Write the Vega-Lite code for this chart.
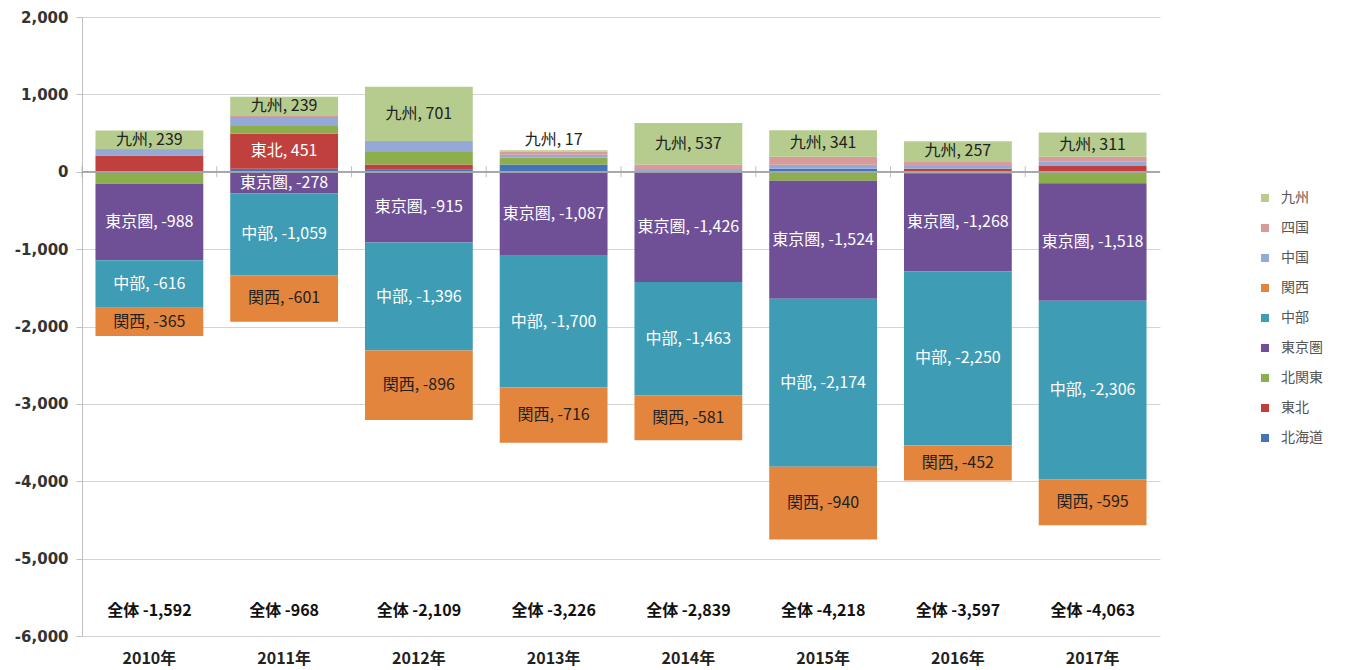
{
  "$schema": "https://vega.github.io/schema/vega-lite/v6.json",
  "width": 1078,
  "height": 619,
  "autosize": {"type": "none"},
  "padding": {"left": 82, "top": 17, "right": 186, "bottom": 34},
  "config": {
    "view": {"stroke": null},
    "font": "Noto Sans CJK JP",
    "axisY": {
      "labelFont": "DejaVu Sans",
      "labelFontWeight": "bold",
      "labelFontSize": 15,
      "labelColor": "#333333",
      "domainColor": "#bfbfbf",
      "tickColor": "#bfbfbf",
      "tickSize": 6,
      "labelPadding": 8,
      "gridColor": "#d4d4d4",
      "grid": true
    },
    "axisX": {
      "labelFont": "Noto Sans CJK JP",
      "labelFontWeight": "bold",
      "labelFontSize": 16,
      "labelColor": "#222222",
      "ticks": false,
      "domain": false,
      "labelPadding": 14,
      "labelAngle": 0
    },
    "legend": {
      "orient": "none",
      "legendX": 1176,
      "legendY": 174,
      "symbolType": "square",
      "symbolSize": 64,
      "symbolStrokeWidth": 0,
      "labelFontSize": 14,
      "labelColor": "#555555",
      "labelFont": "Noto Sans CJK JP",
      "labelOffset": 9,
      "rowPadding": 16
    }
  },
  "datasets": {
    "regions": [
      {"year": "2010年", "region": "北海道", "value": -15},
      {"year": "2010年", "region": "東北", "value": 210},
      {"year": "2010年", "region": "北関東", "value": -140},
      {"year": "2010年", "region": "東京圏", "value": -988},
      {"year": "2010年", "region": "中部", "value": -616},
      {"year": "2010年", "region": "関西", "value": -365},
      {"year": "2010年", "region": "中国", "value": 70},
      {"year": "2010年", "region": "四国", "value": 13},
      {"year": "2010年", "region": "九州", "value": 239},
      {"year": "2011年", "region": "北海道", "value": 40},
      {"year": "2011年", "region": "東北", "value": 451},
      {"year": "2011年", "region": "北関東", "value": 100},
      {"year": "2011年", "region": "東京圏", "value": -278},
      {"year": "2011年", "region": "中部", "value": -1059},
      {"year": "2011年", "region": "関西", "value": -601},
      {"year": "2011年", "region": "中国", "value": 115},
      {"year": "2011年", "region": "四国", "value": 25},
      {"year": "2011年", "region": "九州", "value": 239},
      {"year": "2012年", "region": "北海道", "value": 25},
      {"year": "2012年", "region": "東北", "value": 70},
      {"year": "2012年", "region": "北関東", "value": 160},
      {"year": "2012年", "region": "東京圏", "value": -915},
      {"year": "2012年", "region": "中部", "value": -1396},
      {"year": "2012年", "region": "関西", "value": -896},
      {"year": "2012年", "region": "中国", "value": 130},
      {"year": "2012年", "region": "四国", "value": 12},
      {"year": "2012年", "region": "九州", "value": 701},
      {"year": "2013年", "region": "北海道", "value": 95},
      {"year": "2013年", "region": "北関東", "value": 85},
      {"year": "2013年", "region": "東京圏", "value": -1087},
      {"year": "2013年", "region": "中部", "value": -1700},
      {"year": "2013年", "region": "関西", "value": -716},
      {"year": "2013年", "region": "中国", "value": 40},
      {"year": "2013年", "region": "四国", "value": 40},
      {"year": "2013年", "region": "九州", "value": 17},
      {"year": "2014年", "region": "東京圏", "value": -1426},
      {"year": "2014年", "region": "中部", "value": -1463},
      {"year": "2014年", "region": "関西", "value": -581},
      {"year": "2014年", "region": "中国", "value": 34},
      {"year": "2014年", "region": "四国", "value": 60},
      {"year": "2014年", "region": "九州", "value": 537},
      {"year": "2015年", "region": "北海道", "value": 40},
      {"year": "2015年", "region": "北関東", "value": -116},
      {"year": "2015年", "region": "東京圏", "value": -1524},
      {"year": "2015年", "region": "中部", "value": -2174},
      {"year": "2015年", "region": "関西", "value": -940},
      {"year": "2015年", "region": "中国", "value": 50},
      {"year": "2015年", "region": "四国", "value": 105},
      {"year": "2015年", "region": "九州", "value": 341},
      {"year": "2016年", "region": "東北", "value": 40},
      {"year": "2016年", "region": "北関東", "value": -20},
      {"year": "2016年", "region": "東京圏", "value": -1268},
      {"year": "2016年", "region": "中部", "value": -2250},
      {"year": "2016年", "region": "関西", "value": -452},
      {"year": "2016年", "region": "中国", "value": 35},
      {"year": "2016年", "region": "四国", "value": 61},
      {"year": "2016年", "region": "九州", "value": 257},
      {"year": "2017年", "region": "北海道", "value": 5},
      {"year": "2017年", "region": "東北", "value": 70},
      {"year": "2017年", "region": "北関東", "value": -150},
      {"year": "2017年", "region": "東京圏", "value": -1518},
      {"year": "2017年", "region": "中部", "value": -2306},
      {"year": "2017年", "region": "関西", "value": -595},
      {"year": "2017年", "region": "中国", "value": 55},
      {"year": "2017年", "region": "四国", "value": 65},
      {"year": "2017年", "region": "九州", "value": 311}
    ],
    "totals": [
      {"year": "2010年", "total": -1592},
      {"year": "2011年", "total": -968},
      {"year": "2012年", "total": -2109},
      {"year": "2013年", "total": -3226},
      {"year": "2014年", "total": -2839},
      {"year": "2015年", "total": -4218},
      {"year": "2016年", "total": -3597},
      {"year": "2017年", "total": -4063}
    ]
  },
  "layer": [
    {
      "data": {"name": "regions"},
      "transform": [
        {"calculate": "indexof(['北海道','東北','北関東','東京圏','中部','関西','中国','四国','九州'], datum.region)", "as": "ord"},
        {"stack": "value", "groupby": ["year"], "sort": [{"field": "ord", "order": "ascending"}], "as": ["v0", "v1"]},
        {"calculate": "(datum.v0 + datum.v1) / 2", "as": "mid"},
        {"calculate": "datum.region + ', ' + replace(format(datum.value, ','), '\u2212', '-')", "as": "label"}
      ],
      "layer": [
        {
          "mark": {"type": "bar"},
          "encoding": {
            "x": {"field": "year", "type": "nominal", "title": null, "scale": {"paddingInner": 0.2, "paddingOuter": 0.1}},
            "y": {
              "field": "v0",
              "type": "quantitative",
              "title": null,
              "scale": {"domain": [-6000, 2000], "nice": false},
              "axis": {
                "values": [-6000, -5000, -4000, -3000, -2000, -1000, 0, 1000, 2000],
                "grid": true,
                "labelExpr": "replace(format(datum.value, ','), '\u2212', '-')"
              }
            },
            "y2": {"field": "v1"},
            "color": {
              "field": "region",
              "type": "nominal",
              "title": null,
              "scale": {
                "domain": ["九州", "四国", "中国", "関西", "中部", "東京圏", "北関東", "東北", "北海道"],
                "range": ["#b5cc8e", "#d99a9a", "#94a9d6", "#e4853d", "#3e9cb5", "#6f5096", "#8cae4c", "#c0403e", "#4573b5"]
              }
            }
          }
        },
        {
          "transform": [
            {"filter": "(indexof(['九州','東京圏','中部','関西'], datum.region) >= 0 || abs(datum.value) > 400) && abs(datum.value) >= 100"}
          ],
          "mark": {"type": "text", "fontSize": 16, "baseline": "middle", "align": "center"},
          "encoding": {
            "x": {"field": "year", "type": "nominal", "title": null},
            "y": {"field": "mid", "type": "quantitative", "title": null},
            "text": {"field": "label"},
            "color": {
              "condition": {"test": "datum.region === '九州' || datum.region === '関西'", "value": "#222222"},
              "value": "#ffffff"
            }
          }
        },
        {
          "transform": [
            {"filter": "datum.region === '九州' && abs(datum.value) < 100"}
          ],
          "mark": {"type": "text", "fontSize": 16, "baseline": "bottom", "align": "center", "dy": -2, "color": "#222222"},
          "encoding": {
            "x": {"field": "year", "type": "nominal", "title": null},
            "y": {"field": "v1", "type": "quantitative", "title": null},
            "text": {"field": "label"}
          }
        }
      ]
    },
    {
      "data": {"name": "totals"},
      "mark": {"type": "rule", "color": "#a6a6a6", "strokeWidth": 1},
      "encoding": {
        "y": {"datum": 0, "type": "quantitative", "title": null}
      }
    },
    {
      "data": {"name": "totals"},
      "mark": {"type": "tick", "orient": "vertical", "color": "#a6a6a6", "thickness": 1, "size": 11},
      "encoding": {
        "x": {"field": "year", "type": "nominal", "bandPosition": -0.125, "title": null},
        "y": {"datum": 0, "type": "quantitative", "title": null}
      }
    },
    {
      "data": {"name": "totals"},
      "transform": [
        {"calculate": "'全体 ' + replace(format(datum.total, ','), '\u2212', '-')", "as": "tlabel"}
      ],
      "mark": {"type": "text", "fontSize": 16, "fontWeight": "bold", "baseline": "middle", "align": "center", "color": "#111111"},
      "encoding": {
        "x": {"field": "year", "type": "nominal", "title": null},
        "y": {"datum": -5680, "type": "quantitative", "title": null},
        "text": {"field": "tlabel"}
      }
    }
  ]
}
